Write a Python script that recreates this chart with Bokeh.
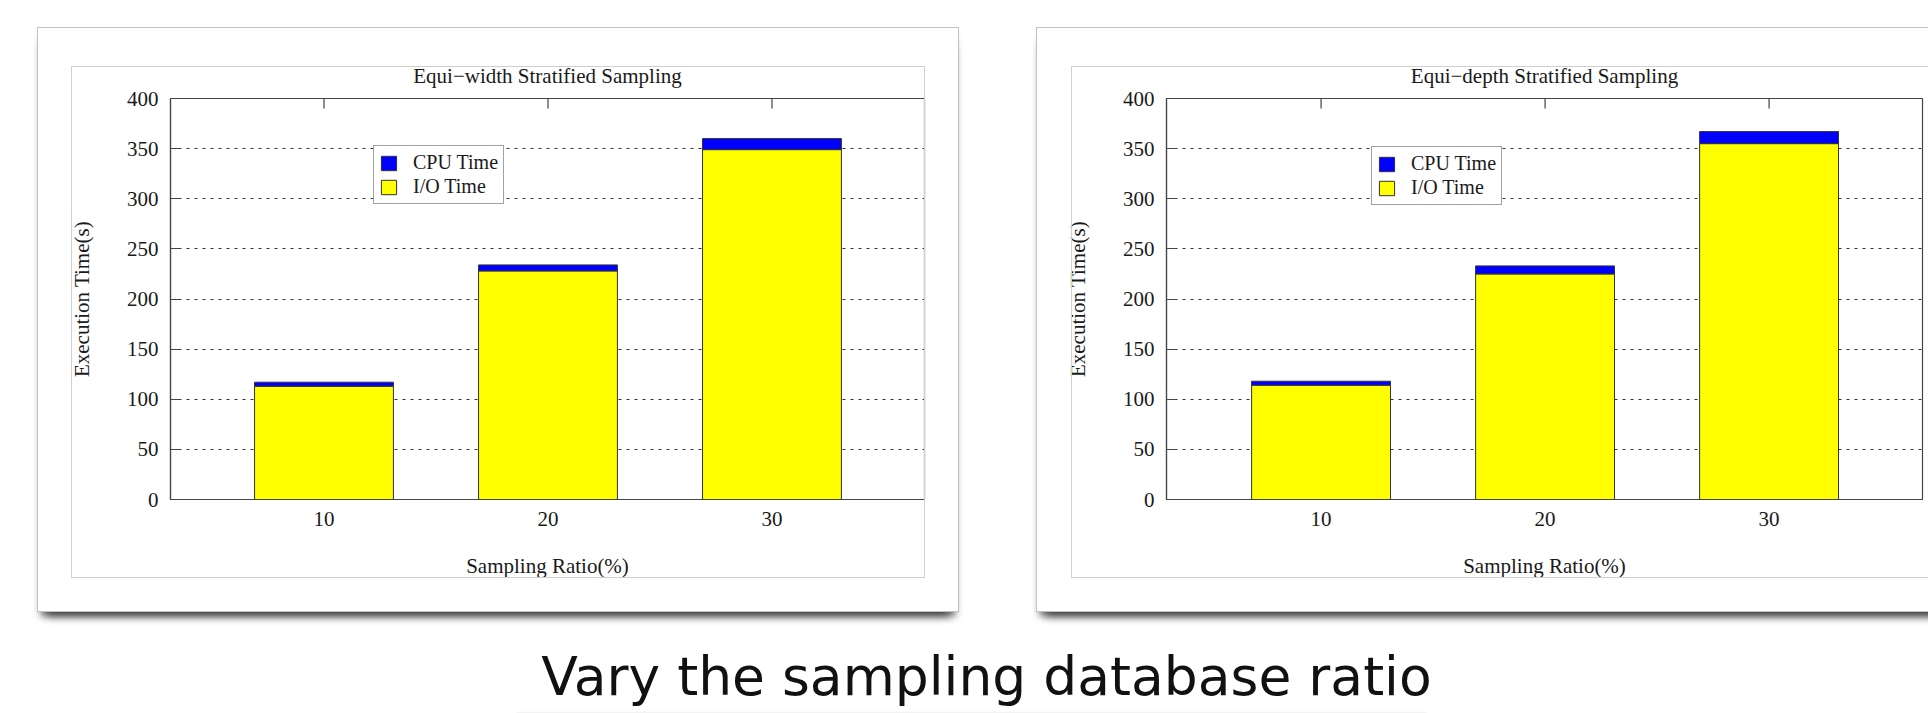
from bokeh.plotting import figure
from bokeh.models import (Range1d, FixedTicker, BoxAnnotation, Label,
                          Legend, LegendItem, ColumnDataSource)
from bokeh.layouts import column, row
from bokeh.embed import file_html
from bokeh.resources import INLINE

# ---------------- data ----------------
ratios = [10, 20, 30]
ratio_labels = ["10", "20", "30"]
y_ticks = [0, 50, 100, 150, 200, 250, 300, 350, 400]

width_io = [113, 228, 349]
width_cpu = [4, 6, 11]
depth_io = [114, 225, 355]
depth_cpu = [4, 8, 12]

titles = ["Equi\u2212width Stratified Sampling", "Equi\u2212depth Stratified Sampling"]
series_names = ["CPU Time", "I/O Time"]
x_title = "Sampling Ratio(%)"
y_title = "Execution Time(s)"
caption = "Vary the sampling database ratio"

SERIF = "Liberation Serif"
INK = "#1a1a1a"
AX = "#444444"
H = 645


def card_css(card_left, inner_left, card_w, inner_w):
    return f"""
:host {{ position: relative; }}
:host::before {{
  content: ""; position: absolute; left: {card_left}px; top: 27px;
  width: {card_w}px; height: 585px; box-sizing: border-box;
  border: 1px solid #c2c2c2;
  box-shadow: 0 7px 7px -3px rgba(0,0,0,0.30), -3px 12px 8px -8px rgba(0,0,0,0.42), 3px 12px 8px -8px rgba(0,0,0,0.42);
  pointer-events: none; z-index: 1;
}}
:host::after {{
  content: ""; position: absolute; left: {inner_left}px; top: 66px;
  width: {inner_w}px; height: 512px; box-sizing: border-box;
  border: 1px solid #d0d0d0;
  pointer-events: none; z-index: 1;
}}
"""


def panel(title, io, cpu, canvas_w, b_left, b_right, xr, css, leg_loc):
    p = figure(width=canvas_w, height=H, output_backend="svg", toolbar_location=None,
               x_range=Range1d(*xr), y_range=Range1d(0, 400),
               min_border_left=b_left, min_border_right=b_right,
               min_border_top=98, min_border_bottom=146,
               stylesheets=[css])
    p.background_fill_color = "white"
    p.border_fill_color = "white"
    p.border_fill_alpha = 0.0
    p.outline_line_color = AX
    p.outline_line_width = 1.2

    p.title.text = title
    p.title.align = "center"
    p.title.text_font = SERIF
    p.title.text_font_size = "21px"
    p.title.text_font_style = "normal"
    p.title.text_color = INK
    p.title.standoff = 21

    p.xgrid.visible = False
    p.ygrid.ticker = FixedTicker(ticks=y_ticks[1:-1])
    p.ygrid.grid_line_color = "#333333"
    p.ygrid.grid_line_dash = "3 5"
    p.ygrid.grid_line_width = 1

    xa = p.xaxis[0]
    xa.ticker = FixedTicker(ticks=ratios)
    xa.major_label_overrides = {r: s for r, s in zip(ratios, ratio_labels)}
    xa.major_tick_in = 0
    xa.major_tick_out = 0
    xa.minor_tick_in = 0
    xa.minor_tick_out = 0
    xa.axis_line_color = AX
    xa.axis_line_width = 1.2
    xa.major_label_standoff = 12
    xa.major_label_text_font = SERIF
    xa.major_label_text_font_size = "21px"
    xa.major_label_text_color = INK
    xa.axis_label = x_title
    xa.axis_label_text_font = SERIF
    xa.axis_label_text_font_size = "21px"
    xa.axis_label_text_font_style = "normal"
    xa.axis_label_text_color = INK
    xa.axis_label_standoff = 25

    ya = p.yaxis[0]
    ya.ticker = FixedTicker(ticks=y_ticks)
    ya.major_tick_in = 10
    ya.major_tick_out = 0
    ya.minor_tick_in = 0
    ya.minor_tick_out = 0
    ya.major_tick_line_color = AX
    ya.axis_line_color = AX
    ya.axis_line_width = 1.2
    ya.major_label_standoff = 12
    ya.major_label_text_font = SERIF
    ya.major_label_text_font_size = "21px"
    ya.major_label_text_color = INK
    ya.axis_label = y_title
    ya.axis_label_text_font = SERIF
    ya.axis_label_text_font_size = "21px"
    ya.axis_label_text_font_style = "normal"
    ya.axis_label_text_color = INK
    ya.axis_label_standoff = 30

    # mirrored category ticks on the top border (pointing inward)
    p.segment(x0=ratios, y0=[400] * 3, x1=ratios, y1=[390] * 3,
              line_color=AX, line_width=1.2)

    total = [a + b for a, b in zip(io, cpu)]
    src = ColumnDataSource(dict(x=ratios, io=io, cpu=cpu, total=total))
    r_io = p.vbar(x="x", width=6.2, bottom=0, top="io", source=src,
                  fill_color="#ffff00", line_color="#333333", line_width=1)
    r_cpu = p.vbar(x="x", width=6.2, bottom="io", top="total", source=src,
                   fill_color="#0000ff", line_color="#333333", line_width=1)

    leg = Legend(items=[LegendItem(label=series_names[0], renderers=[r_cpu]),
                        LegendItem(label=series_names[1], renderers=[r_io])],
                 location=leg_loc, orientation="vertical",
                 glyph_width=19, glyph_height=18, label_height=18, spacing=1,
                 padding=5, label_standoff=15, margin=0,
                 label_text_font=SERIF, label_text_font_size="20px", label_text_color=INK,
                 border_line_color=AX, border_line_width=1.2,
                 background_fill_color="white", background_fill_alpha=1.0)
    p.add_layout(leg)
    return p


p1 = panel(titles[0], width_io, width_cpu, 998, 170, 74, (3.147, 36.81),
           card_css(37, 71, 922, 854), (203, 295))
p2 = panel(titles[1], depth_io, depth_cpu, 930, 168, 6, (3.10, 36.85),
           card_css(38, 73, 960, 900), (205, 294))

p3 = figure(width=1928, height=68, output_backend="svg", toolbar_location=None,
            x_range=Range1d(0, 1928), y_range=Range1d(0, 68), title=None,
            x_axis_type=None, y_axis_type=None, min_border=0)
p3.outline_line_color = None
p3.xgrid.visible = False
p3.ygrid.visible = False
for k, a in enumerate([0.03, 0.05, 0.07]):
    p3.add_layout(BoxAnnotation(left=516, right=1426, bottom=2 - k * 0.7 - 0.7, top=2 - k * 0.7,
                                fill_color="#000000", fill_alpha=a, line_alpha=0))
p3.add_layout(Label(x=986, y=37, text=caption, text_align="center", text_baseline="alphabetic",
                    text_font="DejaVu Sans", text_font_size="53.5px", text_color="#111111"))

layout = column(row(p1, p2, spacing=0), p3, spacing=0)

with open("out.html", "w") as f:
    f.write(file_html(layout, INLINE))
